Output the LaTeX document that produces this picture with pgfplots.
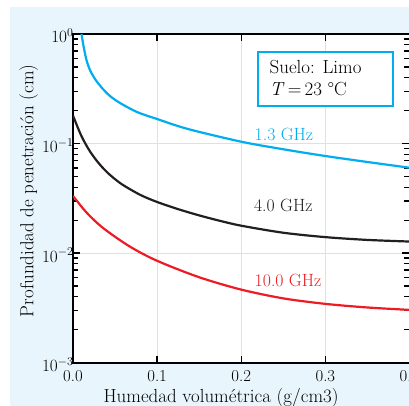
\documentclass[border=0pt]{standalone}
\usepackage{pgfplots}
\pgfplotsset{compat=1.18}

\definecolor{bgblue}{RGB}{233,245,252}
\definecolor{cyanline}{RGB}{0,174,239}
\definecolor{redline}{RGB}{237,28,36}
\definecolor{blackline}{RGB}{35,31,32}

\begin{document}
\begin{tikzpicture}[x=1bp,y=1bp]
\path[use as bounding box] (0,0) rectangle (409,406);
\fill[bgblue] (10,0) rectangle (409,399);
\begin{axis}[
  at={(73bp,43.3bp)}, anchor=south west,
  scale only axis, width=336.5bp, height=328.7bp,
  axis background/.style={fill=white},
  xmin=0, xmax=0.4, ymin=1e-3, ymax=1, ymode=log,
  xtick={0,0.1,0.2,0.3,0.4},
  xticklabels={0.0,0.1,0.2,0.3,0.4},
  ytick={0.001,0.01,0.1,1},
  grid=major,
  major grid style={black!12, line width=0.9bp},
  axis line style={line width=1.8bp, black},
  tick style={black, line width=1.3bp},
  major tick length=7bp, minor tick length=5bp,
  tick align=inside,
  ticklabel style={font=\fontsize{16.8}{19}\selectfont},
  xticklabel style={yshift=-4.5bp},
  yticklabel style={xshift=4bp, yshift=-2bp},
  xlabel={Humedad volumétrica (g/cm3)},
  xlabel style={font=\fontsize{19}{22}\selectfont, at={(axis description cs:0.44,-0.1217)}, anchor=base},
  ylabel={Profundidad de penetración (cm)},
  ylabel style={font=\fontsize{19}{22}\selectfont, at={(axis description cs:-0.132,0.523)}, anchor=center},
]
% 1.3 GHz
\addplot[cyanline, line width=2.2bp, smooth] coordinates {
 (0.0101,1.0) (0.0125,0.777) (0.016,0.579) (0.0202,0.469) (0.0262,0.388)
 (0.0345,0.3214) (0.044,0.2717) (0.0559,0.2346) (0.0761,0.1941)
 (0.1,0.1675) (0.1367,0.1358) (0.2,0.1040) (0.25,0.0887)
 (0.3,0.0770) (0.35,0.0679) (0.4,0.0602)};
% 4.0 GHz
\addplot[blackline, line width=2.2bp, smooth] coordinates {
 (0,0.1799) (0.01,0.1172) (0.02,0.0853) (0.03,0.0670) (0.04,0.0552)
 (0.05,0.0473) (0.06,0.0416) (0.08,0.0340) (0.1,0.0293) (0.125,0.0252)
 (0.15,0.0221) (0.175,0.0197) (0.2,0.0178) (0.25,0.01535) (0.3,0.0140)
 (0.35,0.0132) (0.4,0.01276)};
% 10.0 GHz
\addplot[redline, line width=2.2bp, smooth] coordinates {
 (0,0.03327) (0.0162,0.02344) (0.036,0.01690) (0.0676,0.01148)
 (0.1,0.008511) (0.15,0.006026) (0.2,0.004645) (0.25,0.003864)
 (0.3,0.003443) (0.35,0.003192) (0.4,0.003034)};

\node[anchor=base west, text=cyanline, font=\fontsize{17.8}{20}\selectfont, inner sep=0pt] at (axis cs:0.2158,0.1062) {1.3 GHz};
\node[anchor=base west, text=blackline, font=\fontsize{17.8}{20}\selectfont, inner sep=0pt] at (axis cs:0.215,0.02388) {4.0 GHz};
\node[anchor=base west, text=redline, font=\fontsize{17.8}{20}\selectfont, inner sep=0pt] at (axis cs:0.2158,0.005012) {10.0 GHz};

\draw[cyanline, line width=2bp, fill=white] (axis cs:0.2197,0.6895) rectangle (axis cs:0.3798,0.2203);
\node[anchor=base west, inner sep=0pt, font=\fontsize{19}{22}\selectfont] at (axis cs:0.2336,0.4378) {Suelo: Limo};
\node[anchor=base west, inner sep=0pt, font=\fontsize{19}{22}\selectfont] at (axis cs:0.2336,0.2735) {\textit{T}\,=\,23 \textdegree C};
\end{axis}
\end{tikzpicture}
\end{document}
